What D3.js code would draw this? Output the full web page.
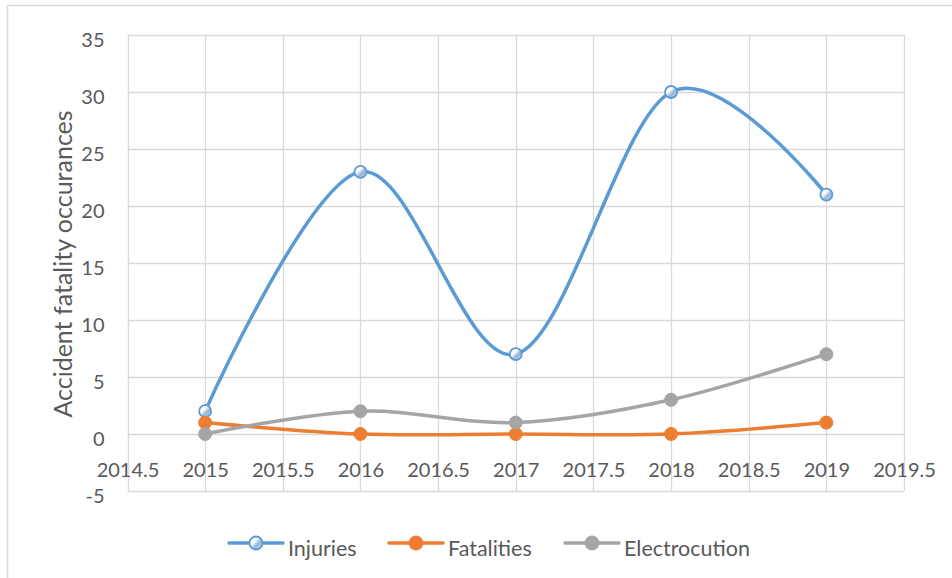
<!DOCTYPE html>
<html>
<head>
<meta charset="utf-8">
<script src="https://cdn.jsdelivr.net/npm/d3@7"></script>
<style>
  html, body { margin: 0; padding: 0; background: #fff; }
  svg { display: block; }
  text { font-family: Lato, "Open Sans", sans-serif; fill: #595959; }
</style>
</head>
<body>
<svg id="chart" width="952" height="578"></svg>
<script>
// ---- Data ----
const years = [2015, 2016, 2017, 2018, 2019];
const injuries = [2, 23, 7, 30, 21];
const fatalities = [1, 0, 0, 0, 1];
const electrocution = [0, 2, 1, 3, 7];
const seriesNames = ["Injuries", "Fatalities", "Electrocution"];
const yTicks = [-5, 0, 5, 10, 15, 20, 25, 30, 35];
const xTicks = [2014.5, 2015, 2015.5, 2016, 2016.5, 2017, 2017.5, 2018, 2018.5, 2019, 2019.5];
const yTitle = "Accident fatality occurances";

const colors = ["#5B9BD5", "#ED7D31", "#A5A5A5"];
const seriesValues = [injuries, fatalities, electrocution];

(function () {
const svg = d3.select("#chart");
const W = 952, H = 578;

// outer frame
svg.append("rect").attr("x", 0).attr("y", 0).attr("width", W).attr("height", H).attr("fill", "#fff");
svg.append("line").attr("x1", 7.5).attr("x2", 7.5).attr("y1", 5).attr("y2", H)
  .attr("stroke", "#D9D9D9").attr("stroke-width", 1.5);
svg.append("line").attr("x1", 7).attr("x2", W).attr("y1", 5.5).attr("y2", 5.5)
  .attr("stroke", "#D9D9D9").attr("stroke-width", 1.5);

// plot area
const pl = 127.5, pr = 904, pt = 35, pb = 491;
const x = d3.scaleLinear().domain([2014.5, 2019.5]).range([pl, pr]);
const y = d3.scaleLinear().domain([-5, 35]).range([pb, pt]);

const defs = svg.append("defs");
const grad = defs.append("linearGradient").attr("id", "glossy")
  .attr("x1", "0").attr("y1", "0").attr("x2", "1").attr("y2", "1");
[["0%", "#eef4fa"], ["38%", "#ffffff"], ["50%", "#c3d6ea"], ["62%", "#95b4d6"], ["100%", "#e6eef7"]]
  .forEach(([o, c]) => grad.append("stop").attr("offset", o).attr("stop-color", c));

// gridlines
const grid = svg.append("g");
grid.selectAll("line.h").data(yTicks).join("line")
  .attr("x1", pl).attr("x2", pr)
  .attr("y1", d => Math.round(y(d)) + 0.5).attr("y2", d => Math.round(y(d)) + 0.5)
  .attr("stroke", "#D9D9D9").attr("stroke-width", 1.3);
grid.selectAll("line.v").data(xTicks).join("line")
  .attr("y1", pt).attr("y2", pb)
  .attr("x1", d => Math.round(x(d)) + 0.5).attr("x2", d => Math.round(x(d)) + 0.5)
  .attr("stroke", "#D9D9D9").attr("stroke-width", 1.3);

// y axis
const yAxis = svg.append("g").attr("transform", `translate(${pl},0)`)
  .call(d3.axisLeft(y).tickValues(yTicks).tickSize(0).tickPadding(23).tickFormat(d => String(d)));
yAxis.select(".domain").remove();
yAxis.selectAll("text").attr("font-size", 20).attr("dy", "0.55em")
  .style("font-family", "Lato, 'Open Sans', sans-serif").attr("fill", "#595959");

// x axis positioned at y=0
const xAxis = svg.append("g").attr("transform", `translate(0,${y(0)})`)
  .call(d3.axisBottom(x).tickValues(xTicks).tickSize(0).tickPadding(29).tickFormat(d => String(d)));
xAxis.select(".domain").remove();
xAxis.selectAll("text").attr("font-size", 20)
  .style("font-family", "Lato, 'Open Sans', sans-serif").attr("fill", "#595959");

// y title
svg.append("text")
  .attr("transform", `translate(63,264) rotate(-90)`)
  .attr("text-anchor", "middle").attr("dy", "0.35em")
  .attr("font-size", 25).text(yTitle);

// series
const line = d3.line().x((d, i) => x(years[i])).y(d => y(d)).curve(d3.curveCardinal.tension(0));
seriesValues.forEach((vals, si) => {
  const g = svg.append("g");
  g.append("path").attr("d", line(vals)).attr("fill", "none")
    .attr("stroke", colors[si]).attr("stroke-width", 3.5).attr("stroke-linecap", "round");
  g.selectAll("circle").data(vals).join("circle")
    .attr("cx", (d, i) => x(years[i])).attr("cy", d => y(d))
    .attr("r", si === 0 ? 6 : 6.5)
    .attr("fill", si === 0 ? "url(#glossy)" : colors[si])
    .attr("stroke", colors[si]).attr("stroke-width", si === 0 ? 1.8 : 1);
});

// legend
const legendX = [229, 389, 565];
const legendY = 543;
seriesNames.forEach((name, i) => {
  const g = svg.append("g").attr("transform", `translate(${legendX[i]},${legendY})`);
  g.append("line").attr("x1", 0).attr("x2", 54).attr("y1", 0).attr("y2", 0)
    .attr("stroke", colors[i]).attr("stroke-width", 3.5).attr("stroke-linecap", "round");
  g.append("circle").attr("cx", 27).attr("cy", 0).attr("r", i === 0 ? 6.5 : 7)
    .attr("fill", i === 0 ? "url(#glossy)" : colors[i])
    .attr("stroke", colors[i]).attr("stroke-width", i === 0 ? 1.8 : 1);
  g.append("text").attr("x", 59).attr("y", 13).attr("font-size", 21.5).text(name);
});
})();
</script>
</body>
</html>
